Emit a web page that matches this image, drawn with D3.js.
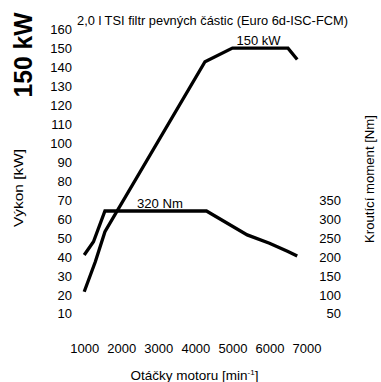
<!DOCTYPE html>
<html><head><meta charset="utf-8">
<script src="https://cdn.jsdelivr.net/npm/d3@7"></script>
<style>
body{margin:0;background:#fff}
svg{display:block}
text{font-family:"Liberation Sans",Arial,sans-serif;fill:#000}
</style></head>
<body><svg id="c" width="381" height="382"></svg>
<script>
// ---- data ----
const rpmTicks = [1000, 2000, 3000, 4000, 5000, 6000, 7000];
const powerTicks = [10, 20, 30, 40, 50, 60, 70, 80, 90, 100, 110, 120, 130, 140, 150, 160];
const torqueTicks = [50, 100, 150, 200, 250, 300, 350];
const powerRpm = [1000, 1300, 1560, 4260, 5000, 6500, 6750];
const powerKw  = [21.4, 37.2, 53.1, 142.8, 150, 150, 144];
const torqueRpm = [1000, 1250, 1560, 4300, 5400, 6000, 6500, 6750];
const torqueNm  = [204, 239, 320, 320, 257, 235, 213, 201];
const title = "2,0 l TSI filtr pevných částic (Euro 6d-ISC-FCM)";
const badge = "150 kW";
const powerLabel = "150 kW";
const torqueLabel = "320 Nm";
const yLeftTitle = "Výkon [kW]";
const yRightTitle = "Kroutící moment [Nm]";

// ---- scales ----
const svg = d3.select("#c");
const x = d3.scaleLinear().domain([1000, 7000]).range([84.2, 306.5]);
const yP = d3.scaleLinear().domain([10, 160]).range([313.3, 29.2]);
const yT = d3.scaleLinear().domain([50, 800]).range([313.3, 29.2]);

// ---- axes ----
const gl = svg.append("g").attr("transform", "translate(72,0)")
  .call(d3.axisLeft(yP).tickValues(powerTicks).tickSize(0).tickPadding(0));
const gr = svg.append("g").attr("transform", "translate(341,0)")
  .call(d3.axisLeft(yT).tickValues(torqueTicks).tickSize(0).tickPadding(0));
const gb = svg.append("g").attr("transform", "translate(0,348)")
  .call(d3.axisBottom(x).tickValues(rpmTicks).tickSize(0).tickPadding(0).tickFormat(d3.format("d")));
[gl, gr, gb].forEach(g => {
  g.select(".domain").remove();
  g.selectAll("text").attr("font-family", "Liberation Sans, Arial, sans-serif")
    .attr("font-size", 13).attr("fill", "#000");
});
gl.selectAll("text").attr("x", 0).attr("dy", "0.358em");
gr.selectAll("text").attr("x", 0).attr("dy", "0.358em");
gb.selectAll("text").attr("y", 0).attr("dy", "0.358em");

// ---- lines ----
const line = d3.line();
svg.append("path")
  .attr("d", line(powerRpm.map((r, i) => [x(r), yP(powerKw[i])])))
  .attr("fill", "none").attr("stroke", "#000").attr("stroke-width", 3.3)
  .attr("stroke-linejoin", "miter");
svg.append("path")
  .attr("d", line(torqueRpm.map((r, i) => [x(r), yT(torqueNm[i])])))
  .attr("fill", "none").attr("stroke", "#000").attr("stroke-width", 3.3)
  .attr("stroke-linejoin", "miter");

// ---- texts ----
svg.append("text").attr("x", 77).attr("y", 24.5).attr("font-size", 13.5)
  .attr("textLength", 271).attr("lengthAdjust", "spacingAndGlyphs").text(title);
svg.append("text").attr("transform", "translate(32,55) rotate(-90)")
  .attr("text-anchor", "middle").attr("font-size", 25).attr("font-weight", "bold")
  .attr("textLength", 85).attr("lengthAdjust", "spacingAndGlyphs").text(badge);
svg.append("text").attr("x", 258.5).attr("y", 45).attr("text-anchor", "middle")
  .attr("font-size", 13.5).attr("textLength", 44).attr("lengthAdjust", "spacingAndGlyphs").text(powerLabel);
svg.append("text").attr("x", 160).attr("y", 208).attr("text-anchor", "middle")
  .attr("font-size", 13.5).attr("textLength", 46).attr("lengthAdjust", "spacingAndGlyphs").text(torqueLabel);
svg.append("text").attr("transform", "translate(23,188) rotate(-90)")
  .attr("text-anchor", "middle").attr("font-size", 13.5)
  .attr("textLength", 78).attr("lengthAdjust", "spacingAndGlyphs").text(yLeftTitle);
svg.append("text").attr("transform", "translate(374,179) rotate(-90)")
  .attr("text-anchor", "middle").attr("font-size", 13.5)
  .attr("textLength", 128).attr("lengthAdjust", "spacingAndGlyphs").text(yRightTitle);
const xt = svg.append("text").attr("x", 194.5).attr("y", 379.5).attr("text-anchor", "middle")
  .attr("font-size", 13.5);
xt.append("tspan").text("Otáčky motoru [min");
xt.append("tspan").attr("font-size", 8).attr("dy", -5).text("-1");
xt.append("tspan").attr("dy", 5).text("]");
</script></body></html>
